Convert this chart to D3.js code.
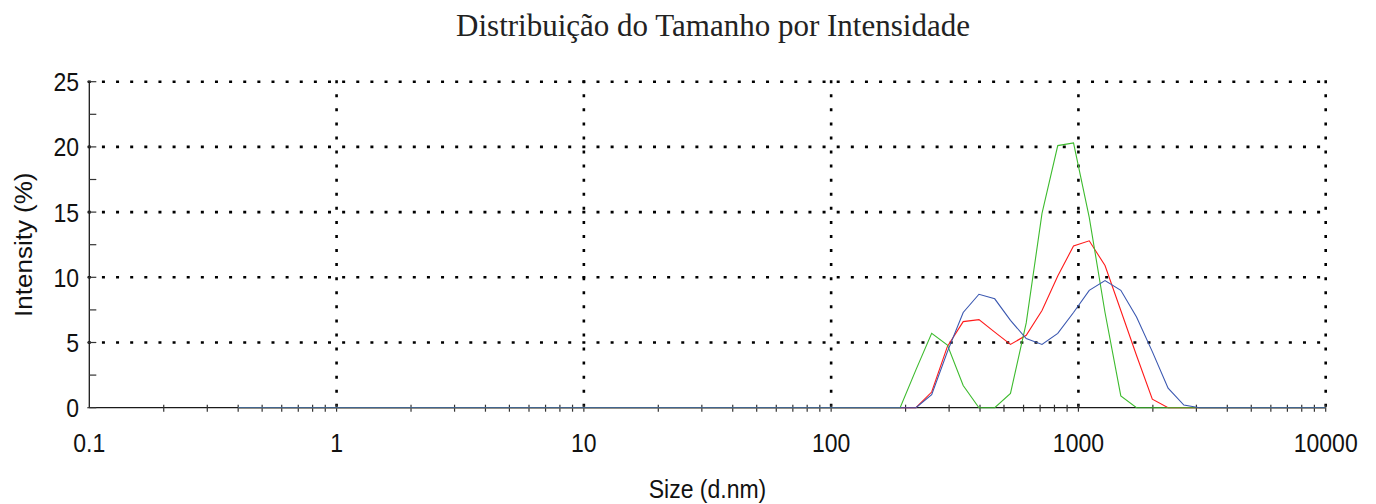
<!DOCTYPE html>
<html>
<head>
<meta charset="utf-8">
<script src="https://cdn.jsdelivr.net/npm/d3@7"></script>
<style>
  body { margin: 0; background: #fff; }
  svg { display: block; }
</style>
</head>
<body>
<svg id="chart"></svg>
<script>
// Zetasizer size bins (d.nm)
const sizeBins = [
  0.4, 0.4632, 0.5365, 0.6213, 0.7195, 0.8332, 0.9649, 1.117, 1.294, 1.499,
  1.736, 2.01, 2.328, 2.696, 3.122, 3.615, 4.187, 4.849, 5.615, 6.503,
  7.531, 8.721, 10.1, 11.7, 13.54, 15.69, 18.17, 21.04, 24.36, 28.21,
  32.67, 37.84, 43.82, 50.75, 58.77, 68.06, 78.82, 91.28, 105.7, 122.4,
  141.8, 164.2, 190.1, 220.2, 255, 295.3, 342, 396.1, 458.7, 531.2,
  615.1, 712.4, 825, 955.4, 1106, 1281, 1484, 1718, 1990, 2305,
  2669, 3091, 3580, 4145, 4801, 5560, 6439, 7456, 8635, 10000
];

// intensity (%) per bin, one array per record
const redValues = [
  0, 0, 0, 0, 0, 0, 0, 0, 0, 0,
  0, 0, 0, 0, 0, 0, 0, 0, 0, 0,
  0, 0, 0, 0, 0, 0, 0, 0, 0, 0,
  0, 0, 0, 0, 0, 0, 0, 0, 0, 0,
  0, 0, 0, 0, 1.2, 4.7, 6.6, 6.75, 5.8, 4.85,
  5.55, 7.45, 10.1, 12.4, 12.8, 10.9, 7.45, 4.0, 0.65, 0,
  0, 0, 0, 0, 0, 0, 0, 0, 0, 0
];
const greenValues = [
  0, 0, 0, 0, 0, 0, 0, 0, 0, 0,
  0, 0, 0, 0, 0, 0, 0, 0, 0, 0,
  0, 0, 0, 0, 0, 0, 0, 0, 0, 0,
  0, 0, 0, 0, 0, 0, 0, 0, 0, 0,
  0, 0, 0, 2.9, 5.7, 4.8, 1.7, 0, 0, 1.1,
  6.5, 14.9, 20.1, 20.3, 14.6, 7.3, 0.9, 0, 0, 0,
  0, 0, 0, 0, 0, 0, 0, 0, 0, 0
];
const blueValues = [
  0, 0, 0, 0, 0, 0, 0, 0, 0, 0,
  0, 0, 0, 0, 0, 0, 0, 0, 0, 0,
  0, 0, 0, 0, 0, 0, 0, 0, 0, 0,
  0, 0, 0, 0, 0, 0, 0, 0, 0, 0,
  0, 0, 0, 0, 1.0, 4.3, 7.3, 8.7, 8.35, 6.7,
  5.3, 4.85, 5.7, 7.3, 9.0, 9.75, 9.0, 6.95, 4.3, 1.5,
  0.2, 0, 0, 0, 0, 0, 0, 0, 0, 0
];

const xTickLabels = [0.1, 1, 10, 100, 1000, 10000];
const yTickLabels = [0, 5, 10, 15, 20, 25];
const yMinorTicks = [2.5, 7.5, 12.5, 17.5, 22.5];

const titleText = "Distribuição do Tamanho por Intensidade";
const xLabel = "Size (d.nm)";
const yLabel = "Intensity (%)";

const width = 1376;
const height = 504;
const stretch = 1.13; // the original text is a little taller than wide

const svg = d3.select("#chart").attr("width", width).attr("height", height);

const x = d3.scaleLog().domain([0.1, 10000]).range([89.3, 1325.7]);
const y = d3.scaleLinear().domain([0, 25]).range([407.7, 81.7]);

const x0 = x(0.1), x1 = x(10000);
const y0 = y(0), y1 = y(25);

// dotted grid
const grid = svg.append("g").attr("class", "grid");
grid.selectAll(".hgrid")
  .data(yTickLabels.filter((d) => d > 0))
  .enter()
  .append("line")
  .attr("x1", x0 - 1.5)
  .attr("x2", x1 + 1.5)
  .attr("y1", (d) => y(d))
  .attr("y2", (d) => y(d))
  .style("stroke", "#000")
  .style("stroke-width", 2.6)
  .style("stroke-dasharray", "3 11.13");

grid.selectAll(".vgrid")
  .data(xTickLabels.filter((d) => d > 0.1))
  .enter()
  .append("line")
  .attr("x1", (d) => x(d))
  .attr("x2", (d) => x(d))
  .attr("y1", y1 - 1.5)
  .attr("y2", y0)
  .style("stroke", "#000")
  .style("stroke-width", 2.6)
  .style("stroke-dasharray", "3 11.07");

// axes
const axes = svg.append("g").attr("class", "axes");
axes.append("line")
  .attr("x1", x0).attr("x2", x1)
  .attr("y1", y0).attr("y2", y0)
  .style("stroke", "#1a1a1a").style("stroke-width", 1.3);
axes.append("line")
  .attr("x1", x0).attr("x2", x0)
  .attr("y1", y1).attr("y2", y0)
  .style("stroke", "#1a1a1a").style("stroke-width", 1.3);

// x ticks (1..9 per decade)
axes.selectAll(".xtick")
  .data(x.ticks().filter((d) => d > 0.1))
  .enter()
  .append("line")
  .attr("x1", (d) => x(d)).attr("x2", (d) => x(d))
  .attr("y1", y0 - 3).attr("y2", y0 + 4)
  .style("stroke", "#333").style("stroke-width", 1.2);

// y ticks
axes.selectAll(".ytick")
  .data(yTickLabels)
  .enter()
  .append("line")
  .attr("x1", x0 - 2).attr("x2", x0 + 7)
  .attr("y1", (d) => y(d)).attr("y2", (d) => y(d))
  .style("stroke", "#333").style("stroke-width", 1.2);
axes.selectAll(".yminor")
  .data(yMinorTicks)
  .enter()
  .append("line")
  .attr("x1", x0).attr("x2", x0 + 7)
  .attr("y1", (d) => y(d)).attr("y2", (d) => y(d))
  .style("stroke", "#333").style("stroke-width", 1.2);

// tick labels
const labelFont = "'Liberation Sans', Arial, sans-serif";
axes.selectAll(".xlabel")
  .data(xTickLabels)
  .enter()
  .append("g")
  .attr("transform", (d) => `translate(${x(d)},451.5) scale(1,${stretch})`)
  .append("text")
  .style("font-family", labelFont)
  .style("font-size", "23px")
  .style("fill", "#111")
  .style("text-anchor", "middle")
  .text((d) => d);

axes.selectAll(".ylabel")
  .data(yTickLabels)
  .enter()
  .append("g")
  .attr("transform", (d) => `translate(79,${y(d) + 9.5}) scale(1,${stretch})`)
  .append("text")
  .style("font-family", labelFont)
  .style("font-size", "23px")
  .style("fill", "#111")
  .style("text-anchor", "end")
  .text((d) => d);

// axis titles
svg.append("g")
  .attr("transform", `translate(${(x0 + x1) / 2},498) scale(1,${stretch})`)
  .append("text")
  .style("font-family", labelFont)
  .style("font-size", "23px")
  .style("fill", "#111")
  .style("text-anchor", "middle")
  .text(xLabel);

svg.append("g")
  .attr("transform", `translate(31.5,${(y0 + y1) / 2}) scale(1,${stretch}) rotate(-90)`)
  .append("text")
  .style("font-family", labelFont)
  .style("font-size", "23px")
  .style("fill", "#111")
  .style("text-anchor", "middle")
  .text(yLabel);

// title
svg.append("text")
  .attr("x", 713)
  .attr("y", 36)
  .style("font-family", "'Liberation Serif', 'Times New Roman', serif")
  .style("font-size", "31px")
  .style("fill", "#222")
  .style("text-anchor", "middle")
  .text(titleText);

// series lines: red, then green, blue on top
const series = [
  { name: "red", values: redValues, color: "#ff1a1a" },
  { name: "green", values: greenValues, color: "#3dbb2e" },
  { name: "blue", values: blueValues, color: "#3a57b0" },
];

const line = d3.line()
  .x((d) => x(d[0]))
  .y((d) => y(d[1]));

svg.append("g")
  .attr("class", "series")
  .selectAll("path")
  .data(series)
  .enter()
  .append("path")
  .attr("d", (s) => line(sizeBins.map((b, i) => [b, s.values[i]])))
  .style("fill", "none")
  .style("stroke", (s) => s.color)
  .style("stroke-width", 1.1);
</script>
</body>
</html>
